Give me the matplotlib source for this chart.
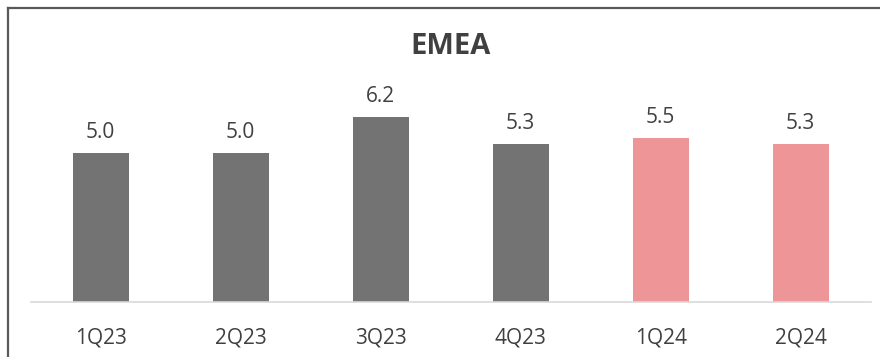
import matplotlib.pyplot as plt
from matplotlib.lines import Line2D

quarters = ["1Q23", "2Q23", "3Q23", "4Q23", "1Q24", "2Q24"]
values = [5.0, 5.0, 6.2, 5.3, 5.5, 5.3]
bar_colors = ["#737373", "#737373", "#737373", "#737373", "#EE9598", "#EE9598"]

plt.rcParams["font.family"] = ["Open Sans", "DejaVu Sans"]
TEXT = "#404040"

W, H, DPI = 880, 357, 100
fig = plt.figure(figsize=(W / DPI, H / DPI), dpi=DPI)

# axes placed in pixel terms: plot area 840 px wide, baseline at y=302 px
px_per_unit = 29.93
left, right = 30.7, 870.7
base_y, top_y = 302.3, 10.0
ax = fig.add_axes([left / W, (H - base_y) / H, (right - left) / W, (base_y - top_y) / H])
ax.set_ylim(0, (base_y - top_y) / px_per_unit)
ax.set_xlim(-0.5, len(quarters) - 0.5)

x = range(len(quarters))
ax.bar(x, values, width=0.4, color=bar_colors, zorder=2)

for xi, v in zip(x, values):
    ax.annotate(f"{v:.1f}", xy=(xi, v), xytext=(0, 10.3), textcoords="offset points",
                ha="center", va="baseline", fontsize=15, color=TEXT)

for side in ["top", "right", "left"]:
    ax.spines[side].set_visible(False)
ax.spines["bottom"].set_color("#D9D9D9")
ax.spines["bottom"].set_linewidth(1.2)
ax.set_yticks([])
ax.set_xticks(list(x))
ax.set_xticklabels(quarters, fontsize=15, color=TEXT)
ax.tick_params(axis="x", length=0, pad=18)

fig.text(451 / W, 1 - 46 / H, "EMEA", ha="center", va="center",
         fontsize=21, fontweight="bold", color=TEXT)

# frame on the left and top edges only
fig.add_artist(Line2D([7.5 / W, 7.5 / W], [0, 1 - 7.5 / H], color="#595959", lw=1.6,
                      transform=fig.transFigure))
fig.add_artist(Line2D([7.5 / W, 1], [1 - 7.5 / H, 1 - 7.5 / H], color="#595959", lw=1.6,
                      transform=fig.transFigure))

fig.savefig("out.png", dpi=DPI, facecolor="white")
